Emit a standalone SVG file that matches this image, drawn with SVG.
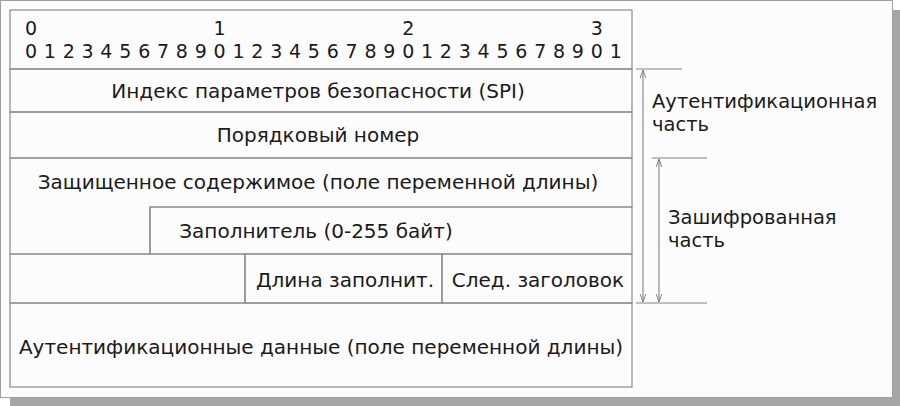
<svg xmlns="http://www.w3.org/2000/svg" width="900" height="406" viewBox="0 0 900 406">
<style>
  text { font-family: "DejaVu Sans", Verdana, sans-serif; font-size: 20px; fill: #1a1a1a; }
  .c { text-anchor: middle; }
  .d { font-size: 19px; }
  .lb { font-size: 19.5px; }
  .ln { stroke: #8a8a8a; stroke-width: 1.2; fill: none; }
  .ar { stroke: #808080; stroke-width: 1.1; fill: none; }
</style>
<defs>
  <marker id="ah" viewBox="0 0 10 10" refX="10" refY="5" markerWidth="8" markerHeight="8" orient="auto-start-reverse" markerUnits="userSpaceOnUse">
    <path d="M0,1.5 L10,5 L0,8.5" fill="none" stroke="#808080" stroke-width="1.2"/>
  </marker>
</defs>
<rect x="10" y="10" width="890" height="396" fill="#a6a6a6"/>
<rect x="0.5" y="0.5" width="892" height="397" fill="#fcfcfc" stroke="#a0a0a0" stroke-width="1"/>

<g id="header">
  <rect x="10" y="10" width="622" height="59" class="ln"/>
  <text class="c d" x="31 219.6 408.2 596.8" y="35">0123</text>
  <text class="c d" x="31 49.9 68.7 87.6 106.4 125.3 144.2 163 181.9 200.7 219.6 238.5 257.3 276.2 295 313.9 332.8 351.6 370.5 389.3 408.2 427.1 445.9 464.8 483.6 502.5 521.4 540.2 559.1 577.9 596.8 615.7" y="57.5">01234567890123456789012345678901</text>
</g>
<g id="spi">
  <rect x="10" y="69" width="622" height="43" class="ln"/>
  <text class="c" x="318" y="97.5">Индекс параметров безопасности (SPI)</text>
</g>
<g id="seq">
  <rect x="10" y="112" width="622" height="46" class="ln"/>
  <text class="c" x="318" y="142">Порядковый номер</text>
</g>
<g id="payload">
  <path class="ln" d="M10,158 H632 V207 H150 V254 H10 Z"/>
  <text class="c" x="318" y="189">Защищенное содержимое (поле переменной длины)</text>
</g>
<g id="padding">
  <path class="ln" d="M150,207 H632 V254 H150 Z"/>
  <text class="c" x="316" y="238">Заполнитель (0-255 байт)</text>
</g>
<g id="blank">
  <path class="ln" d="M10,254 H245 V303 H10 Z"/>
</g>
<g id="padlen">
  <rect x="245" y="254" width="197" height="49" class="ln"/>
  <text class="c" x="345" y="287">Длина заполнит.</text>
</g>
<g id="nexthdr">
  <rect x="442" y="254" width="190" height="49" class="ln"/>
  <text class="c" x="538" y="287">След. заголовок</text>
</g>
<g id="authdata">
  <rect x="10" y="303" width="622" height="84" class="ln"/>
  <text class="c" x="321" y="354">Аутентификационные данные (поле переменной длины)</text>
</g>

<g id="connectors">
  <line class="ar" x1="636" y1="69" x2="682" y2="69"/>
  <line class="ar" x1="652" y1="158" x2="707" y2="158"/>
  <line class="ar" x1="636" y1="303" x2="707" y2="303"/>
  <line class="ar" x1="643" y1="70" x2="643" y2="302" marker-start="url(#ah)" marker-end="url(#ah)"/>
  <line class="ar" x1="659" y1="159" x2="659" y2="302" marker-start="url(#ah)" marker-end="url(#ah)"/>
</g>

<g id="label-auth">
  <text class="lb" x="652" y="108">Аутентификационная</text>
  <text class="lb" x="652" y="131">часть</text>
</g>
<g id="label-enc">
  <text class="lb" x="668" y="224">Зашифрованная</text>
  <text class="lb" x="668" y="247">часть</text>
</g>
</svg>
